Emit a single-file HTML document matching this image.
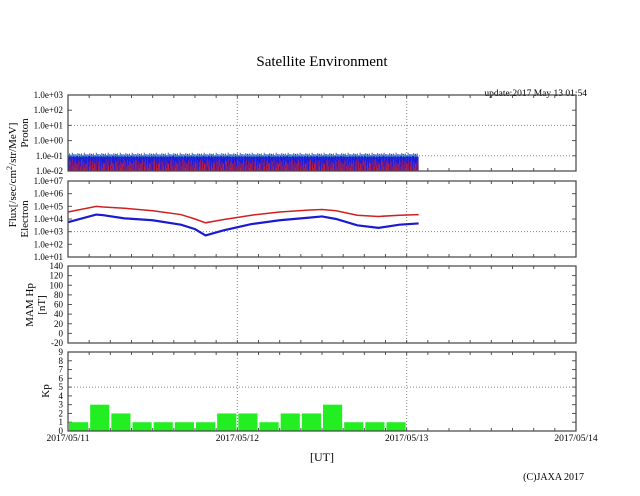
<!DOCTYPE html>
<html><head><meta charset="utf-8"><style>
body{margin:0;background:#fff}
svg{display:block;font-family:"Liberation Serif",serif}
</style></head><body>
<svg id="c" width="640" height="496">
<text x="322" y="66" font-size="15" text-anchor="middle">Satellite Environment</text>
<text x="587" y="96" font-size="9.5" text-anchor="end">update:2017 May 13 01:54</text>
<text transform="translate(16,175) rotate(-90)" font-size="11" text-anchor="middle">Flux[/sec/cm<tspan dy="-4" font-size="8">2</tspan><tspan dy="4">/str/MeV]</tspan></text>
<text transform="translate(28,133) rotate(-90)" font-size="11" text-anchor="middle">Proton</text>
<text transform="translate(28,219) rotate(-90)" font-size="11" text-anchor="middle">Electron</text>
<text transform="translate(33,305) rotate(-90)" font-size="11" text-anchor="middle">MAM Hp</text>
<text transform="translate(45,305) rotate(-90)" font-size="11" text-anchor="middle">[nT]</text>
<text transform="translate(49,391) rotate(-90)" font-size="11" text-anchor="middle">Kp</text>
<text x="322" y="461" font-size="12" text-anchor="middle">[UT]</text>
<text x="584" y="480" font-size="10" text-anchor="end">(C)JAXA 2017</text>
<g id="g"></g>
</svg>
<script>
const dateLabels=["2017/05/11","2017/05/12","2017/05/13","2017/05/14"];
const kpValues=[1,3,2,1,1,1,1,2,2,1,2,2,3,1,1,1];
const elecHours=[0,4,5,8,12,16,18,19.5,22,26,30,34,36,38,41,44,47,49.7];
const elecRed=[4.55,5.0,4.95,4.85,4.65,4.35,4.0,3.7,3.95,4.3,4.55,4.7,4.75,4.65,4.3,4.2,4.3,4.35];
const elecBlue=[3.75,4.35,4.3,4.05,3.9,3.55,3.2,2.7,3.1,3.6,3.9,4.1,4.2,4.0,3.5,3.3,3.55,3.65];
const protonBlue=[-0.9,-1.1,-0.85,-1.6,-0.95,-1.0,-0.8,-1.3,-0.9,-1.05,-0.88,-1.7,-0.92,-0.97,-0.83,-1.2,-0.87];
const protonRed=[-1.5,-1.9,-1.3,-2,-1.4,-1.7,-1.25,-1.95,-1.6,-1.35,-1.8,-1.45,-1.55];
const protonGreen=[-1.0,-0.95,-1.02,-0.97,-1.0,-0.93,-1.03,-0.98,-1.01];
const dataEndHour=49.7;
const NS="http://www.w3.org/2000/svg";
const g=document.getElementById('g');
const X0=68,X1=576,DAYW=(X1-X0)/3;
const xs=h=>X0+h*DAYW/24;
function el(t,a,p){const e=document.createElementNS(NS,t);for(const k in a)e.setAttribute(k,a[k]);(p||g).appendChild(e);return e;}
const panels=[
 {name:'proton',top:95,bot:171,min:-2,max:3,ticks:[-2,-1,0,1,2,3],lab:v=>'1.0e'+(v<0?'-':'+')+String(Math.abs(v)).padStart(2,'0'),grid:[1,-1]},
 {name:'electron',top:181,bot:257,min:1,max:7,ticks:[1,2,3,4,5,6,7],lab:v=>'1.0e+'+String(v).padStart(2,'0'),grid:[3]},
 {name:'mam',top:266,bot:343,min:-20,max:140,ticks:[-20,0,20,40,60,80,100,120,140],lab:v=>String(v),grid:[]},
 {name:'kp',top:352,bot:431,min:0,max:9,ticks:[0,1,2,3,4,5,6,7,8,9],lab:v=>String(v),grid:[5]}
];
panels.forEach(p=>{
 p.y=v=>p.bot-(v-p.min)/(p.max-p.min)*(p.bot-p.top);
 p.ticks.forEach(t=>{
  const y=p.y(t);
  const tl=el('text',{x:63,y:y+3,'font-size':9,'text-anchor':'end'});tl.textContent=p.lab(t);
  
  
  el('line',{x1:X0,x2:X0+4,y1:y,y2:y,stroke:'#555'});
  el('line',{x1:X1-4,x2:X1,y1:y,y2:y,stroke:'#555'});
 });
 p.grid.forEach(v=>{const l=el('line',{x1:X0,x2:X1,y1:p.y(v),y2:p.y(v),stroke:'#888','stroke-dasharray':'1,2'});
  });
 for(let d=1;d<3;d++){el('line',{x1:X0+d*DAYW,x2:X0+d*DAYW,y1:p.top,y2:p.bot,stroke:'#888','stroke-dasharray':'1,2'});}
 for(let h=3;h<72;h+=3){const x=xs(h);el('line',{x1:x,x2:x,y1:p.bot,y2:p.bot-3,stroke:'#555'});el('line',{x1:x,x2:x,y1:p.top,y2:p.top+3,stroke:'#555'});}
});
// proton spikes
const pp=panels[0];
const pg=el('g',{});
el('rect',{x:X0,y:pp.y(-1.05),width:xs(dataEndHour)-X0,height:pp.bot-pp.y(-1.05),fill:'#3a3ad8'},pg);
for(let i=0,h=0;h<=dataEndHour;i++,h+=0.1){
 const x=xs(h);
 el('line',{x1:x,x2:x,y1:pp.bot,y2:pp.y(protonBlue[i%protonBlue.length]),stroke:'#1a1adc','stroke-width':0.8},pg);
 el('line',{x1:x,x2:x,y1:pp.bot,y2:pp.y(protonRed[i%protonRed.length]),stroke:'#e02020','stroke-width':0.6},pg);
}
let gpts=[];for(let i=0,h=0;h<=dataEndHour;i++,h+=0.3)gpts.push(xs(h)+','+pp.y(protonGreen[i%protonGreen.length]));
const gl=el('polyline',{points:gpts.join(' '),fill:'none',stroke:'#20b080','stroke-width':1.2},pg);

// electron
const ep=panels[1];
[[elecRed,'#d02020','electron-red-line',1.5],[elecBlue,'#1a1ad0','electron-blue-line',2.2]].forEach(([arr,c,n,w])=>{
 const l=el('polyline',{points:elecHours.map((h,i)=>xs(h)+','+ep.y(arr[i])).join(' '),fill:'none',stroke:c,'stroke-width':w});
 
});
// kp bars
const kp=panels[3];
kpValues.forEach((v,i)=>{
 const x=xs(i*3)+1,w=DAYW/8-2;
 const r=el('rect',{x:x,y:kp.y(v),width:w,height:kp.bot-kp.y(v),fill:'#22ee22'});
 
});
panels.forEach(p=>{const r=el('rect',{x:X0,y:p.top,width:X1-X0,height:p.bot-p.top,fill:'none',stroke:'#444','stroke-width':1.2});
 });
dateLabels.forEach((d,i)=>{const t=el('text',{x:X0+i*DAYW,y:441,'font-size':9.5,'text-anchor':'middle'});t.textContent=d;
 });
</script>
</body></html>
